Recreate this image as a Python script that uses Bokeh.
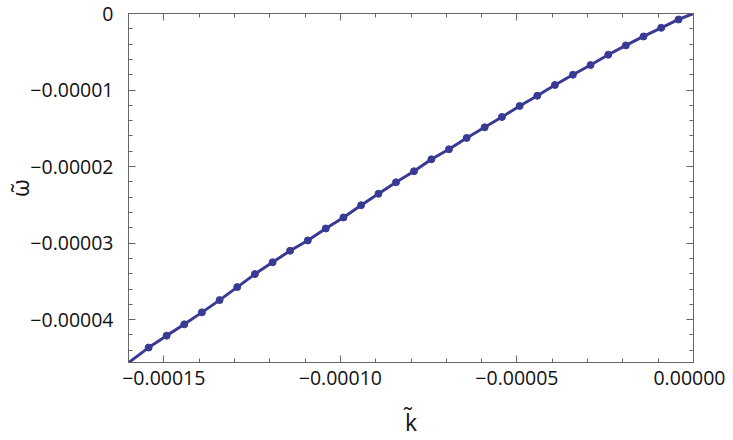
from bokeh.plotting import figure
from bokeh.models import Range1d, FixedTicker, LinearAxis
from bokeh.embed import file_html
from bokeh.resources import INLINE

k_pts = [-4.24e-6, -9.14e-6, -14.15e-6, -19.16e-6, -24.14e-6, -29.15e-6, -34.15e-6,
         -39.25e-6, -44.23e-6, -49.24e-6, -54.25e-6, -59.14e-6, -64.24e-6, -69.25e-6,
         -74.23e-6, -79.15e-6, -84.24e-6, -89.22e-6, -94.14e-6, -99.12e-6, -104.13e-6,
         -109.23e-6, -114.24e-6, -119.2e-6, -124.2e-6, -129.2e-6, -134.2e-6, -139.2e-6,
         -144.2e-6, -149.2e-6, -154.3e-6]
w_pts = [-0.78e-6, -1.87e-6, -3.00e-6, -4.17e-6, -5.39e-6, -6.73e-6, -8.00e-6,
         -9.34e-6, -10.74e-6, -12.08e-6, -13.52e-6, -14.87e-6, -16.26e-6, -17.74e-6,
         -19.05e-6, -20.61e-6, -22.05e-6, -23.56e-6, -25.05e-6, -26.65e-6, -28.09e-6,
         -29.65e-6, -31.00e-6, -32.5e-6, -34.05e-6, -35.75e-6, -37.45e-6, -39.05e-6,
         -40.61e-6, -42.09e-6, -43.65e-6]
# curve end points
k_ends = [0.0, -160.5e-6]
w_ends = [0.0, -45.8e-6]

x_ticks = [-0.00015, -0.00010, -0.00005, 0.0]
x_labels = ["\u22120.00015", "\u22120.00010", "\u22120.00005", "0.00000"]
y_ticks = [0.0, -0.00001, -0.00002, -0.00003, -0.00004]
y_labels = ["0", "\u22120.00001", "\u22120.00002", "\u22120.00003", "\u22120.00004"]
x_minor = [-0.00016 + i * 0.00001 for i in range(17)]
y_minor = [-0.000046 + i * 0.000002 for i in range(24)]

FONT = "Open Sans"
FRAME = "#666666"
BLUE = "#393a94"

p = figure(width=725, height=440, output_backend="svg", toolbar_location=None,
           x_range=Range1d(-0.00016, 0.0), y_range=Range1d(-0.0000456, 0.0),
           min_border_left=128, min_border_right=32, min_border_top=13,
           min_border_bottom=78, x_axis_label="k\u0303", y_axis_label="\u03c9\u0303")
p.xgrid.visible = False
p.ygrid.visible = False
p.outline_line_color = FRAME
p.background_fill_color = "white"
p.border_fill_color = "white"

line_k = [k_ends[0]] + k_pts + [k_ends[1]]
line_w = [w_ends[0]] + w_pts + [w_ends[1]]
p.line(line_k, line_w, line_color=BLUE, line_width=3)
p.scatter(k_pts, w_pts, size=7, color=BLUE)

xt = FixedTicker(ticks=x_ticks, minor_ticks=x_minor)
yt = FixedTicker(ticks=y_ticks, minor_ticks=y_minor)

def style(ax, ticker, labels, ticks, show):
    ax.ticker = ticker
    ax.axis_line_color = FRAME
    ax.major_tick_line_color = FRAME
    ax.minor_tick_line_color = FRAME
    ax.major_tick_in = 7
    ax.major_tick_out = 0
    ax.minor_tick_in = 4
    ax.minor_tick_out = 0
    if show:
        ax.major_label_overrides = {t: l for t, l in zip(ticks, labels)}
        ax.major_label_text_font = FONT
        ax.major_label_text_font_size = "19.5px"
        ax.major_label_text_color = "#111111"
        ax.axis_label_text_font = FONT
        ax.axis_label_text_font_size = "23px"
        ax.axis_label_text_font_style = "normal"
        ax.axis_label_text_color = "#111111"
    else:
        ax.major_label_text_font_size = "1px"
        ax.major_label_text_color = None
        ax.major_label_standoff = 0

xa = p.xaxis[0]
ya = p.yaxis[0]
style(xa, xt, x_labels, x_ticks, True)
style(ya, yt, y_labels, y_ticks, True)
xa.major_label_standoff = 8
xa.axis_label_standoff = 18
ya.major_label_standoff = 15
ya.axis_label_standoff = -9

top = LinearAxis()
right = LinearAxis()
style(top, xt, None, None, False)
style(right, yt, None, None, False)
p.add_layout(top, "above")
p.add_layout(right, "right")

open("out.html", "w").write(file_html(p, INLINE))
